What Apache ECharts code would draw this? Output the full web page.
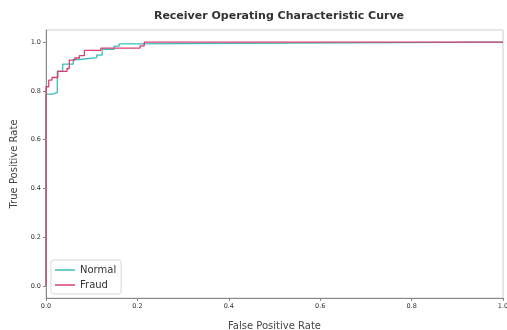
<!DOCTYPE html>
<html>
<head>
<meta charset="utf-8">
<script src="https://cdn.jsdelivr.net/npm/echarts@6/dist/echarts.min.js"></script>
<style>html,body{margin:0;padding:0;background:#fff}#c{width:507px;height:330px}</style>
</head>
<body>
<div id="c"></div>
<script>
const normalFpr = [0, 0, 0.0147, 0.0147, 0.0247, 0.0247, 0.0365, 0.0365, 0.0597, 0.0597, 0.0744, 0.0744, 0.111, 0.111, 0.123, 0.123, 0.149, 0.149, 0.160, 0.160, 0.185, 0.185, 1.0];
const normalTpr = [0, 0.787, 0.787, 0.793, 0.793, 0.881, 0.881, 0.910, 0.910, 0.929, 0.929, 0.937, 0.937, 0.947, 0.947, 0.971, 0.971, 0.984, 0.984, 0.993, 0.993, 1.0, 1.0];
const fraudFpr = [0, 0, 0.006, 0.006, 0.013, 0.013, 0.026, 0.026, 0.046, 0.046, 0.051, 0.051, 0.063, 0.063, 0.073, 0.073, 0.084, 0.084, 0.120, 0.120, 0.206, 0.206, 0.215, 0.215, 1.0];
const fraudTpr = [0, 0.817, 0.817, 0.844, 0.844, 0.855, 0.855, 0.880, 0.880, 0.892, 0.892, 0.926, 0.926, 0.935, 0.935, 0.945, 0.945, 0.966, 0.966, 0.976, 0.976, 0.985, 0.985, 1.0, 1.0];
const yTicks = [0, 0.2, 0.4, 0.6, 0.8, 1.0];
const xTicks = [0, 0.2, 0.4, 0.6, 0.8, 1.0];
const seriesNames = ['Normal', 'Fraud'];
const colors = ['#3dbdbd', '#d93f72'];

const font = 'DejaVu Sans';
const chart = echarts.init(document.getElementById('c'), null, {renderer: 'canvas'});
const zip = (a, b) => a.map((v, i) => [v, b[i]]);
chart.setOption({
  backgroundColor: '#fff',
  animation: false,
  title: {
    text: 'Receiver Operating Characteristic Curve',
    left: 274, textAlign: 'center', top: 6,
    textStyle: {fontFamily: font, fontSize: 11, fontWeight: 'bold', color: '#333'}
  },
  grid: {left: 46, right: 4, top: 30, bottom: 32, show: true, borderColor: '#cfcfcf', borderWidth: 1,
         containLabel: false, outerBoundsMode: 'none'},
  legend: {
    orient: 'vertical', left: 51, top: 260,
    data: seriesNames,
    icon: 'rect', itemWidth: 20, itemHeight: 1.5, itemGap: 5,
    backgroundColor: '#fff', borderColor: '#d8d8d8', borderWidth: 1, borderRadius: 3,
    padding: [5, 5, 4, 4],
    textStyle: {fontFamily: font, fontSize: 10, color: '#333'}
  },
  xAxis: {
    type: 'value', min: 0, max: 1,
    name: 'False Positive Rate', nameLocation: 'middle', nameGap: 23,
    nameTextStyle: {fontFamily: font, fontSize: 10, color: '#444'},
    axisLine: {show: true, onZero: false, lineStyle: {color: '#888', width: 1}},
    axisTick: {show: true, length: 3, customValues: xTicks, lineStyle: {color: '#888'}},
    axisLabel: {customValues: xTicks, formatter: v => v.toFixed(1), fontFamily: font, fontSize: 6.5, color: '#333', margin: 5},
    splitLine: {show: false}
  },
  yAxis: {
    type: 'value', min: -0.05, max: 1.05,
    name: 'True Positive Rate', nameLocation: 'middle', nameGap: 27,
    nameTextStyle: {fontFamily: font, fontSize: 10, color: '#444'},
    axisLine: {show: true, onZero: false, lineStyle: {color: '#888', width: 1}},
    axisTick: {show: true, length: 3, customValues: yTicks, lineStyle: {color: '#888'}},
    axisLabel: {customValues: yTicks, formatter: v => v.toFixed(1), fontFamily: font, fontSize: 6.5, color: '#333', margin: 5},
    splitLine: {show: false}
  },
  series: [
    {name: seriesNames[0], type: 'line', data: zip(normalFpr, normalTpr), showSymbol: false, symbol: 'none',
     lineStyle: {color: colors[0], width: 1.3}, itemStyle: {color: colors[0]}},
    {name: seriesNames[1], type: 'line', data: zip(fraudFpr, fraudTpr), showSymbol: false, symbol: 'none',
     lineStyle: {color: colors[1], width: 1.3}, itemStyle: {color: colors[1]}}
  ]
});
</script>
</body>
</html>
